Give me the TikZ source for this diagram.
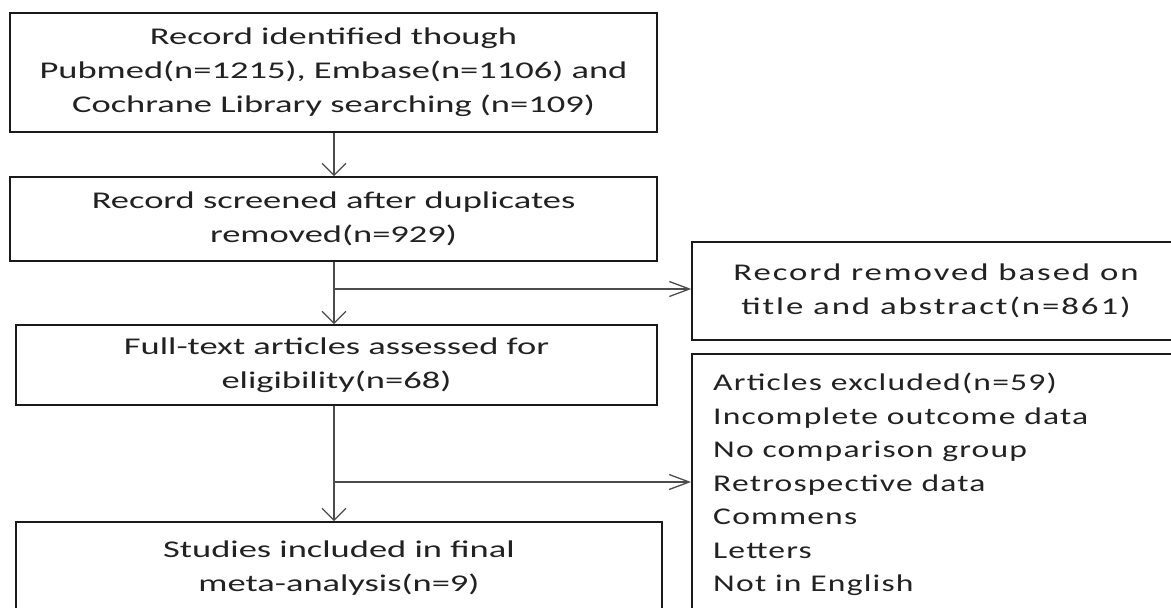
\documentclass[tikz,border=0pt]{standalone}
\usepackage{fontspec}
\setmainfont{Carlito}
\newfontfamily\lft[FakeStretch=1.52]{Carlito}
\newfontfamily\rgt[FakeStretch=1.45,LetterSpace=8]{Carlito}
\newfontfamily\rgtlist[FakeStretch=1.4,LetterSpace=5]{Carlito}
\usetikzlibrary{arrows.meta}
\definecolor{ink}{HTML}{222222}
\definecolor{edge}{HTML}{1A1A1A}
\tikzset{
  flowbox/.style={draw=edge, line width=1.6pt, rectangle, inner sep=0pt, align=center,
    text=ink, font=\lft\fontsize{24}{34}\selectfont},
  sidebox/.style={draw=edge, line width=1.6pt, rectangle, inner sep=0pt,
    text=ink, font=\rgt\fontsize{24}{34}\selectfont},
  conn/.style={draw=black!70, line width=1.4pt},
  downarrow/.style={conn, -{Straight Barb[length=12pt,width=24pt,line width=1.3pt]}},
  rightarrow/.style={conn, -{Straight Barb[length=20pt,width=15pt,line width=1.3pt]}}
}
\begin{document}
\begin{tikzpicture}[x=1pt,y=-1pt]
\useasboundingbox[fill=white] (0,0) rectangle (1171,608);
\clip (0,0) rectangle (1171,608);
\node[flowbox, minimum width=647pt, minimum height=119pt] (b1) at (333.5,72.5)
  {Record identified though\\Pubmed(n=1215), Embase(n=1106) and\\Cochrane Library searching (n=109)};
\node[flowbox, minimum width=647pt, minimum height=84pt] (b2) at (333.5,219)
  {Record screened after duplicates\\removed(n=929)};
\node[flowbox, minimum width=641pt, minimum height=80pt] (b3) at (336.5,365)
  {Full-text articles assessed for\\eligibility(n=68)};
\node[flowbox, minimum width=646pt, minimum height=93pt] (b5) at (339,568.5)
  {Studies included in final\\meta-analysis(n=9)};
\node[sidebox, align=center, minimum width=488pt, minimum height=98pt] (b4) at (936,291)
  {Record removed based on\\title and abstract(n=861)};
\node[sidebox, minimum width=490pt, minimum height=270pt, anchor=north west] (b6) at (691,353) {};
\node[font=\rgtlist\fontsize{24}{33.5}\selectfont, text=ink, align=left, anchor=north west, inner sep=0pt] (t6) at (713,373)
  {Articles excluded(n=59)\\Incomplete outcome data\\No comparison group\\Retrospective data\\Commens\\Letters\\Not in English};
\coordinate (j1) at (334,289);
\coordinate (j2) at (334,482);
\draw[downarrow] (b1.south -| j1) -- (b2.north -| j1);
\draw[downarrow] (b2.south -| j1) -- (b3.north -| j1);
\draw[downarrow] (b3.south -| j1) -- (b5.north -| j1);
\draw[rightarrow] (j1) -- (j1 -| b4.west);
\draw[rightarrow] (j2) -- (j2 -| b6.west);
\end{tikzpicture}
\end{document}
